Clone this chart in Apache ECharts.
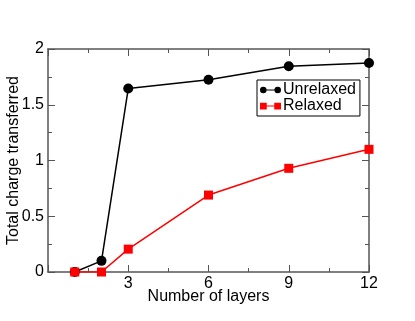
<!DOCTYPE html>
<html>
<head>
<meta charset="utf-8">
<script src="https://cdn.jsdelivr.net/npm/echarts@6/dist/echarts.min.js"></script>
<style>
  html, body { margin: 0; padding: 0; background: #fff; }
  #chart { width: 415px; height: 321px; }
</style>
</head>
<body>
<div id="chart"></div>
<script>
// data
var layers = [1, 2, 3, 6, 9, 12]
var unrelaxed = [0, 0.10, 1.645, 1.725, 1.845, 1.875]
var relaxed = [0, 0, 0.205, 0.69, 0.93, 1.10]
var xTicks = [3, 6, 9, 12]
var yTicks = [0, 0.5, 1, 1.5, 2]

var font = 'Liberation Sans, Arial, sans-serif'
var axisColor = '#555'

function pairs (xs, ys) {
  return xs.map(function (x, i) { return [x, ys[i]] })
}

// legend icons: line with a marker at each end
var circleIcon = 'path://M0,5A5,5 0 1,1 10,5A5,5 0 1,1 0,5Z M5,4.2H27V5.8H5Z M22,5A5,5 0 1,1 32,5A5,5 0 1,1 22,5Z'
var squareIcon = 'path://M0,0H9V9H0Z M4,3.7H24V5.3H4Z M19,0H28V9H19Z'

function boxAxis (extra) {
  var base = {
    axisLine: { show: true, onZero: false, lineStyle: { color: axisColor, width: 1.5 } },
    axisTick: { show: true, inside: true, length: 7, lineStyle: { color: axisColor } },
    minorTick: { show: true, splitNumber: 2, length: 4, lineStyle: { color: axisColor } },
    splitLine: { show: false }
  }
  return Object.assign(base, extra)
}

var chart = echarts.init(document.getElementById('chart'))
chart.setOption({
  animation: false,
  backgroundColor: '#fff',
  grid: { left: 48, right: 46, top: 49, bottom: 49, containLabel: false, outerBoundsMode: 'none' },
  legend: {
    left: 257,
    top: 80,
    orient: 'vertical',
    itemGap: 0,
    itemWidth: 21,
    itemHeight: 9,
    padding: [2, 4, 2, 3],
    borderColor: '#000',
    borderWidth: 1,
    borderRadius: 0,
    backgroundColor: '#fff',
    textStyle: { fontFamily: font, fontSize: 16, color: '#000', padding: [0, 0, 0, -3] },
    data: [
      { name: 'Unrelaxed', icon: circleIcon },
      { name: 'Relaxed', icon: squareIcon }
    ]
  },
  xAxis: [boxAxis({
    type: 'value',
    position: 'bottom',
    min: 0,
    max: 12,
    interval: 3,
    name: 'Number of layers',
    nameLocation: 'middle',
    nameGap: 17,
    nameMoveOverlap: false,
    nameTextStyle: { fontFamily: font, fontSize: 16, color: '#000' },
    axisLabel: {
      fontFamily: font,
      fontSize: 16,
      color: '#000',
      margin: 4,
      formatter: function (v) { return xTicks.indexOf(v) >= 0 ? String(v) : '' }
    }
  }), boxAxis({
    type: 'value',
    position: 'top',
    min: 0,
    max: 12,
    interval: 3,
    axisLabel: { show: false }
  })],
  yAxis: [boxAxis({
    type: 'value',
    position: 'left',
    min: 0,
    max: 2,
    interval: 0.5,
    name: 'Total charge transferred',
    nameLocation: 'middle',
    nameGap: 26,
    nameMoveOverlap: false,
    nameTextStyle: { fontFamily: font, fontSize: 16, color: '#000' },
    axisLabel: {
      fontFamily: font,
      fontSize: 16,
      color: '#000',
      margin: 4,
      formatter: function (v) { return yTicks.indexOf(v) >= 0 ? String(v) : '' }
    }
  }), boxAxis({
    type: 'value',
    position: 'right',
    min: 0,
    max: 2,
    interval: 0.5,
    axisLabel: { show: false }
  })],
  series: [{
    name: 'Unrelaxed',
    type: 'line',
    data: pairs(layers, unrelaxed),
    symbol: 'circle',
    symbolSize: 10,
    z: 3,
    lineStyle: { color: '#000', width: 1.5 },
    itemStyle: { color: '#000' }
  }, {
    name: 'Relaxed',
    type: 'line',
    data: pairs(layers, relaxed),
    symbol: 'rect',
    symbolSize: 9,
    z: 4,
    lineStyle: { color: '#f00', width: 1.5 },
    itemStyle: { color: '#f00' }
  }]
})
</script>
</body>
</html>
